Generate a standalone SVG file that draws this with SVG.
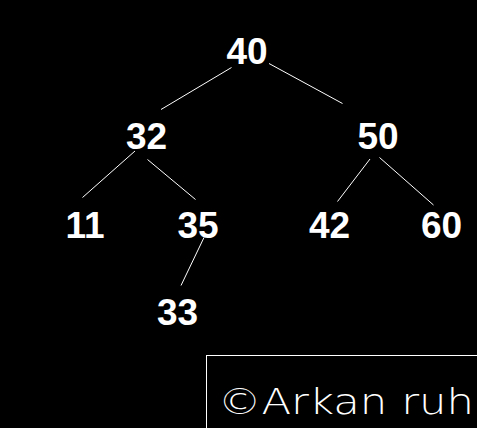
<svg xmlns="http://www.w3.org/2000/svg" width="477" height="428" viewBox="0 0 477 428">
<style>
.n{font-family:"Liberation Sans",Arial,sans-serif;font-weight:bold;font-size:37px;fill:#fff;text-anchor:middle}
.e{stroke:#fff;stroke-width:1;fill:none}
.sig{font-family:"DejaVu Sans","Liberation Sans",sans-serif;font-size:36px;font-weight:200;fill:#fff}
</style>
<rect width="477" height="428" fill="#000"/>
<g id="connectors">
<line class="e" x1="231.5" y1="67.5" x2="161" y2="109.5"/>
<line class="e" x1="269" y1="63.5" x2="342.5" y2="103.5"/>
<line class="e" x1="135" y1="151" x2="82.5" y2="197.5"/>
<line class="e" x1="147.5" y1="159.5" x2="195.5" y2="199.5"/>
<line class="e" x1="370" y1="159" x2="337.5" y2="201.5"/>
<line class="e" x1="379.5" y1="157.5" x2="433.5" y2="205"/>
<line class="e" x1="204" y1="237.5" x2="181" y2="285.5"/>
</g>
<g id="n40"><text class="n" x="247" y="64">40</text></g>
<g id="n32"><text class="n" x="146.5" y="149">32</text></g>
<g id="n50"><text class="n" x="378" y="149">50</text></g>
<g id="n11"><text class="n" x="85" y="238">11</text></g>
<g id="n35"><text class="n" x="198" y="238">35</text></g>
<g id="n42"><text class="n" x="329.5" y="238">42</text></g>
<g id="n60"><text class="n" x="441.5" y="238">60</text></g>
<g id="n33"><text class="n" x="177.5" y="325">33</text></g>
<g id="signature">
<rect class="e" x="206.5" y="355.5" width="280" height="80"/>
<text class="sig" x="218" y="414" textLength="256" lengthAdjust="spacingAndGlyphs">©Arkan ruh</text>
</g>
</svg>
